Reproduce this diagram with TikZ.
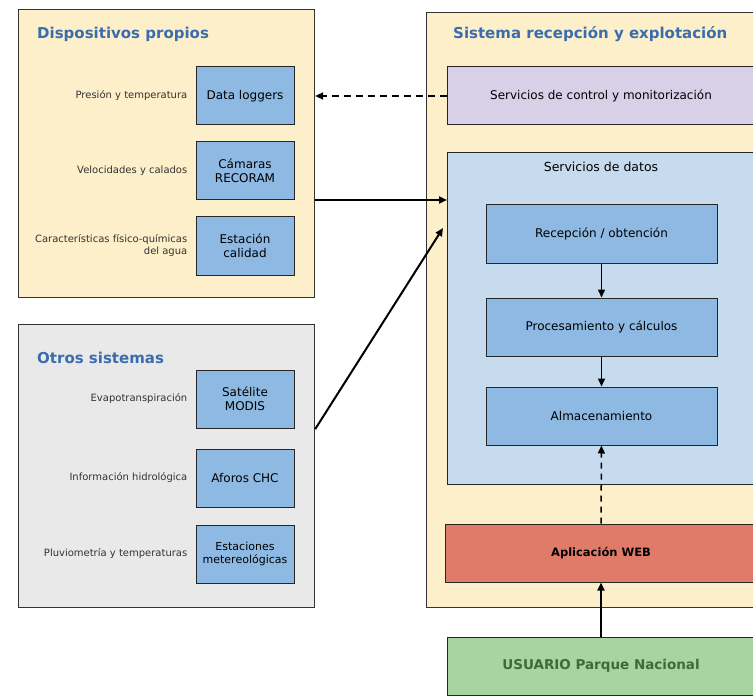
\documentclass[tikz,border=0pt]{standalone}
\usepackage{fontspec}
\setmainfont{DejaVu Sans}
\usetikzlibrary{arrows.meta, positioning, calc}

\definecolor{panelyellow}{HTML}{FDEFC9}
\definecolor{panelgray}{HTML}{E9E9E9}
\definecolor{devblue}{HTML}{8DB9E2}
\definecolor{datablue}{HTML}{C6DBEE}
\definecolor{ctrlpurple}{HTML}{D8D0E6}
\definecolor{webred}{HTML}{E07B6A}
\definecolor{usergreen}{HTML}{A8D4A1}
\definecolor{usertext}{HTML}{3E6B3A}
\definecolor{titleblue}{HTML}{3A6DAE}

\begin{document}
\begin{tikzpicture}[
        x=1pt, y=-1pt,
        >={Triangle[length=8pt, width=7pt]},
        node distance=16pt and 8pt,
        % Define Styles
        panel/.style={rectangle, draw=black!80, line width=1.2pt, anchor=north west, inner sep=0pt},
        paneltitle/.style={anchor=west, inner sep=0pt, text=titleblue, font=\fontsize{15}{17}\selectfont\bfseries},
        devbox/.style={rectangle, draw=black!85, fill=devblue, line width=1pt, minimum width=98pt, minimum height=58pt, align=center, font=\fontsize{12}{14}\selectfont},
        sidelabel/.style={align=right, inner sep=0pt, text=black!80, font=\fontsize{10}{12}\selectfont},
        widebox/.style={rectangle, draw=black!85, line width=1pt, minimum width=308pt, minimum height=58pt, align=center, font=\fontsize{12}{14}\selectfont},
        stepbox/.style={rectangle, draw=black!85, fill=devblue, line width=1pt, minimum width=231pt, minimum height=58pt, align=center, font=\fontsize{12}{14}\selectfont},
        arrow/.style={->, line width=2pt, draw=black}
    ]
    \clip (0,0) rectangle (753,698);

    % --- DISPOSITIVOS PROPIOS ---
    \node[panel, fill=panelyellow, minimum width=296pt, minimum height=288pt] (propios) at (18,9) {};
    \node[paneltitle] at (37,34) {Dispositivos propios};

    \node[devbox] (loggers) at (245,96) {Data loggers};
    \node[devbox, below=of loggers] (camaras) {Cámaras\\RECORAM};
    \node[devbox, below=of camaras] (calidad) {Estación\\calidad};

    \node[sidelabel, left=of loggers] {Presión y temperatura};
    \node[sidelabel, left=of camaras] {Velocidades y calados};
    \node[sidelabel, left=of calidad] {Características físico-químicas\\del agua};

    % --- OTROS SISTEMAS ---
    \node[panel, fill=panelgray, minimum width=296pt, minimum height=283pt] (otros) at (18,324) {};
    \node[paneltitle] at (37,358) {Otros sistemas};

    \node[devbox] (modis) at (245,399) {Satélite\\MODIS};
    \node[devbox, below=20pt of modis] (aforos) {Aforos CHC};
    \node[devbox, below=17pt of aforos, font=\fontsize{11}{13}\selectfont] (meteo) {Estaciones\\metereológicas};

    \node[sidelabel, left=of modis] {Evapotranspiración};
    \node[sidelabel, left=of aforos] {Información hidrológica};
    \node[sidelabel, left=of meteo] {Pluviometría y temperaturas};

    % --- SISTEMA RECEPCION Y EXPLOTACION ---
    \node[panel, fill=panelyellow, minimum width=350pt, minimum height=595pt] (sistema) at (426,12) {};
    \node[paneltitle] at (453,34) {Sistema recepción y explotación};

    \node[widebox, fill=ctrlpurple, font=\fontsize{12}{14}\selectfont] (control) at (601,96) {Servicios de control y monitorización};

    \node[panel, draw=black!85, line width=1pt, fill=datablue, minimum width=308pt, minimum height=332pt] (datos) at (447,152) {};
    \node[font=\fontsize{12.5}{14}\selectfont] at (601,167) {Servicios de datos};

    \node[stepbox] (recepcion) at (601.5,234) {Recepción / obtención};
    \node[stepbox, below=34pt of recepcion] (proceso) {Procesamiento y cálculos};
    \node[stepbox, below=30pt of proceso] (almacen) {Almacenamiento};

    \node[widebox, fill=webred, minimum width=312pt, font=\fontsize{11.5}{14}\selectfont\bfseries] (web) at (601,553) {Aplicación WEB};

    % --- USUARIO ---
    \node[widebox, fill=usergreen, text=usertext, font=\fontsize{13.5}{15}\selectfont\bfseries] (usuario) at (601,666) {USUARIO Parque Nacional};

    % free ends on the left side of the data services box
    \coordinate (datosin) at ($(datos.north west)+(0,48)$);
    \coordinate (datosin2) at ($(datos.north west)+(-4,76)$);

    % --- DATA FLOW ---
    \draw[arrow, dashed, dash pattern=on 7pt off 5pt] (control.west) -- (propios.east |- control.west);
    \draw[arrow] (propios.east |- datosin) -- (datosin);
    \draw[arrow] ($(otros.east)+(0,-37)$) -- (datosin2);

    \draw[->, line width=1.5pt] (recepcion) -- (proceso);
    \draw[->, line width=1.5pt] (proceso) -- (almacen);
    \draw[->, line width=1.5pt, dashed, dash pattern=on 6pt off 5pt] (web) -- (almacen);
    \draw[arrow] (usuario) -- (web);

\end{tikzpicture}
\end{document}
